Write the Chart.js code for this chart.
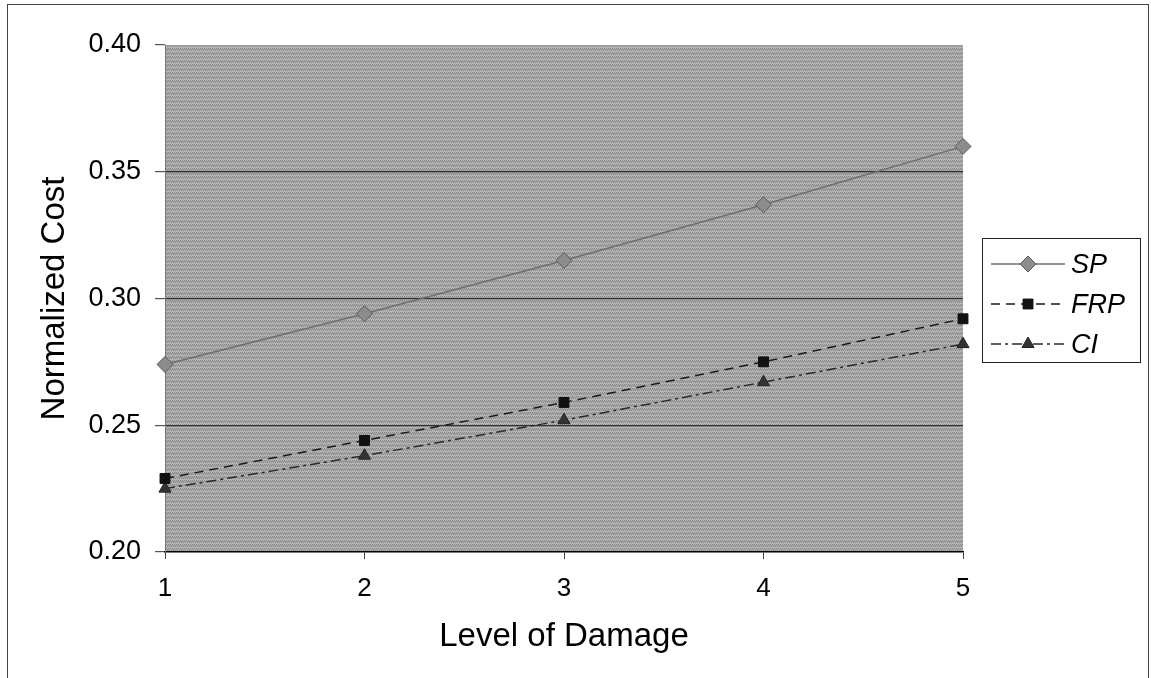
<!DOCTYPE html>
<html>
<head>
<meta charset="utf-8">
<script src="https://cdn.jsdelivr.net/npm/chart.js@4/dist/chart.umd.min.js"></script>
<style>
    html, body { margin: 0; padding: 0; background: #fff; }
    #wrap { width: 1151px; height: 678px; position: relative; }
</style>
</head>
<body>
<div id="wrap"><canvas id="chart"></canvas></div>
<script>
// Chart data
const damageLevels = ['1', '2', '3', '4', '5'];
const spCost = [0.274, 0.294, 0.315, 0.337, 0.360];
const frpCost = [0.229, 0.244, 0.259, 0.275, 0.292];
const ciCost = [0.225, 0.238, 0.252, 0.267, 0.282];
const seriesNames = ['SP', 'FRP', 'CI'];
const yTicks = [0.20, 0.25, 0.30, 0.35, 0.40];

const FONT = "'Liberation Sans', Arial, sans-serif";

// small dotted tile, like the halftone fill of the scanned plot area
function makeDither() {
    const c = document.createElement('canvas');
    c.width = 4; c.height = 4;
    const g = c.getContext('2d');
    g.fillStyle = '#b4b4b4';
    g.fillRect(0, 0, 4, 4);
    g.fillStyle = '#8a8a8a';
    g.fillRect(0, 0, 1, 1);
    g.fillRect(2, 0, 1, 1);
    g.fillRect(1, 2, 1, 1);
    g.fillRect(3, 2, 1, 1);
    g.fillStyle = '#9a9a9a';
    g.fillRect(0, 1, 4, 1);
    return c;
}

// Gray plot background + outer frame
const backgroundPlugin = {
    id: 'plotBackground',
    beforeDraw(chart) {
        const { ctx, chartArea: a } = chart;
        ctx.save();
        ctx.fillStyle = '#ffffff';
        ctx.fillRect(0, 0, chart.width, chart.height);
        ctx.strokeStyle = '#444';
        ctx.lineWidth = 1;
        ctx.strokeRect(7.5, 4.5, 1141, 700);
        ctx.fillStyle = ctx.createPattern(makeDither(), 'repeat');
        ctx.fillRect(a.left, a.top, a.right - a.left, a.bottom - a.top);
        ctx.restore();
    }
};

// Boxed legend at the right, built from the datasets
const boxLegendPlugin = {
    id: 'boxLegend',
    afterDraw(chart) {
        const ctx = chart.ctx;
        const box = { x: 982, y: 238, w: 158, h: 124 };
        ctx.save();
        ctx.fillStyle = '#fff';
        ctx.fillRect(box.x, box.y, box.w, box.h);
        ctx.strokeStyle = '#222';
        ctx.lineWidth = 1;
        ctx.strokeRect(box.x + 0.5, box.y + 0.5, box.w, box.h);

        chart.data.datasets.forEach((ds, i) => {
            const y = box.y + 26 + i * 40;
            ctx.strokeStyle = ds.borderColor;
            ctx.lineWidth = ds.borderWidth;
            ctx.setLineDash(ds.borderDash || []);
            ctx.beginPath();
            ctx.moveTo(991, y);
            ctx.lineTo(1065, y);
            ctx.stroke();
            ctx.setLineDash([]);
            ctx.fillStyle = ds.pointBackgroundColor;
            ctx.strokeStyle = ds.pointBorderColor;
            ctx.lineWidth = 1;
            Chart.helpers.drawPoint(ctx, {
                pointStyle: ds.pointStyle,
                radius: ds.pointRadius,
                rotation: 0,
                borderWidth: 1
            }, 1028, y);
            ctx.fillStyle = '#000';
            ctx.font = 'italic 27px ' + FONT;
            ctx.textBaseline = 'middle';
            ctx.textAlign = 'left';
            ctx.fillText(ds.label, 1071, y + 1);
        });
        ctx.restore();
    }
};

const ctx = document.getElementById('chart').getContext('2d');
new Chart(ctx, {
    type: 'line',
    data: {
        labels: damageLevels,
        datasets: [
            {
                label: seriesNames[0],
                data: spCost,
                borderColor: '#6e6e6e',
                borderWidth: 1.5,
                pointStyle: 'rectRot',
                pointRadius: 8,
                pointBackgroundColor: '#8c8c8c',
                pointBorderColor: '#5a5a5a',
                pointBorderWidth: 1
            },
            {
                label: seriesNames[1],
                data: frpCost,
                borderColor: '#1a1a1a',
                borderWidth: 1.5,
                borderDash: [9, 6],
                pointStyle: 'rect',
                pointRadius: 7,
                pointBackgroundColor: '#111',
                pointBorderColor: '#111',
                pointBorderWidth: 1
            },
            {
                label: seriesNames[2],
                data: ciCost,
                borderColor: '#2a2a2a',
                borderWidth: 1.5,
                borderDash: [10, 4, 3, 4],
                pointStyle: 'triangle',
                pointRadius: 7,
                pointBackgroundColor: '#333',
                pointBorderColor: '#222',
                pointBorderWidth: 1
            }
        ]
    },
    options: {
        responsive: true,
        maintainAspectRatio: false,
        animation: false,
        layout: { padding: { top: 45, right: 188, bottom: 0, left: 0 } },
        plugins: {
            legend: { display: false },
            tooltip: { enabled: false }
        },
        scales: {
            x: {
                offset: false,
                afterFit(scale) { scale.height = 126; },
                grid: {
                    drawOnChartArea: false,
                    drawTicks: true,
                    tickLength: 7,
                    tickColor: '#444'
                },
                border: { display: true, color: '#000', width: 1.5 },
                ticks: {
                    color: '#000',
                    padding: 14,
                    maxRotation: 0,
                    font: { family: FONT, size: 26 }
                },
                title: {
                    display: true,
                    text: 'Level of Damage',
                    color: '#000',
                    font: { family: FONT, size: 33 },
                    padding: { top: 0, bottom: 21 }
                }
            },
            y: {
                min: yTicks[0],
                max: yTicks[yTicks.length - 1],
                afterFit(scale) { scale.width = 165; },
                afterBuildTicks(scale) {
                    scale.ticks = yTicks.map(v => ({ value: v }));
                },
                grid: {
                    color: ctx => (ctx.tick && (ctx.tick.value <= 0.2001 || ctx.tick.value >= 0.3999)) ? 'rgba(0,0,0,0)' : '#333',
                    lineWidth: 1.2,
                    tickLength: 10,
                    tickColor: '#555'
                },
                border: { display: true, color: '#777', width: 1 },
                ticks: {
                    color: '#000',
                    padding: 14,
                    font: { family: FONT, size: 27 },
                    callback: v => Number(v).toFixed(2)
                },
                title: {
                    display: true,
                    text: 'Normalized Cost',
                    color: '#000',
                    font: { family: FONT, size: 33 },
                    padding: { top: 35, bottom: 0 }
                }
            }
        }
    },
    plugins: [backgroundPlugin, boxLegendPlugin]
});
</script>
</body>
</html>
